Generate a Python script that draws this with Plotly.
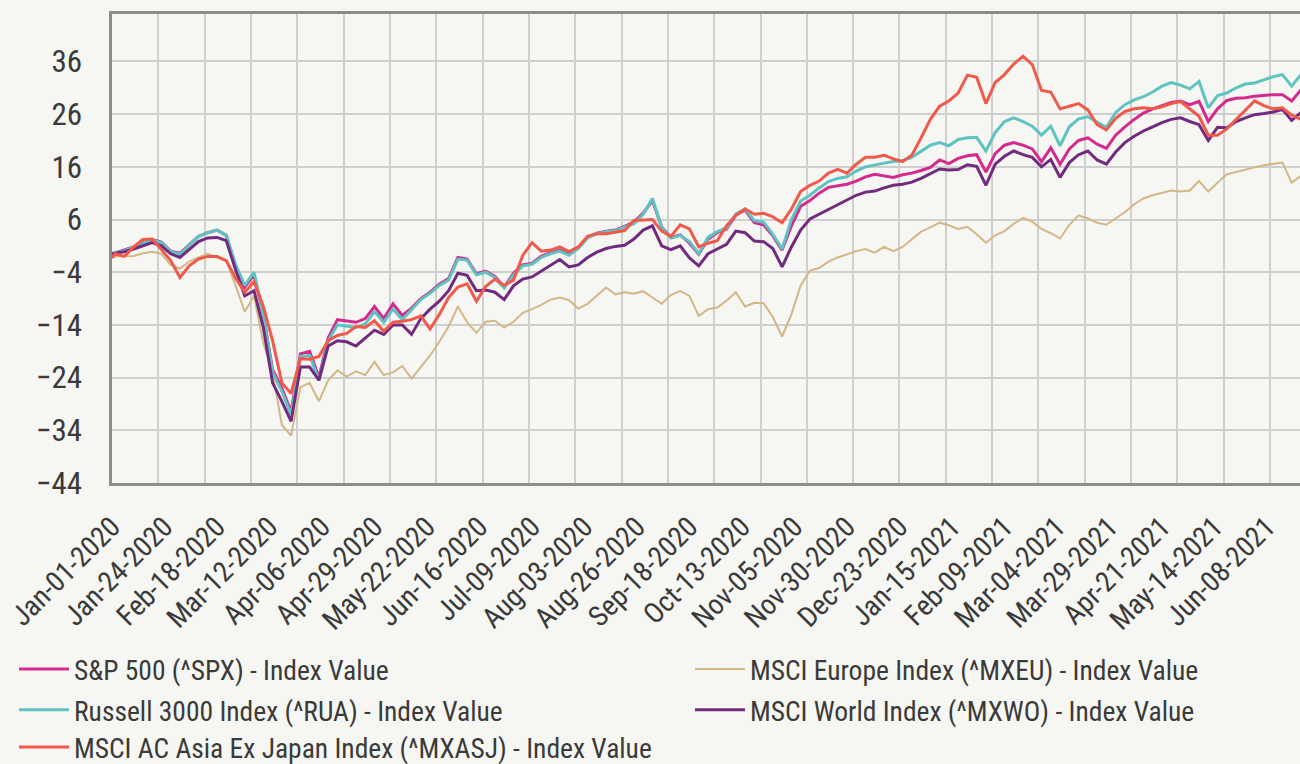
import plotly.graph_objects as go

# weekday index (0 = Jan-01-2020) of each sampled point
sample_idx = [0] + list(range(1, 386, 3))

tick_idx = list(range(0, 375, 17))
tick_labels = ["Jan-01-2020", "Jan-24-2020", "Feb-18-2020", "Mar-12-2020", "Apr-06-2020",
               "Apr-29-2020", "May-22-2020", "Jun-16-2020", "Jul-09-2020", "Aug-03-2020",
               "Aug-26-2020", "Sep-18-2020", "Oct-13-2020", "Nov-05-2020", "Nov-30-2020",
               "Dec-23-2020", "Jan-15-2021", "Feb-09-2021", "Mar-04-2021", "Mar-29-2021",
               "Apr-21-2021", "May-14-2021", "Jun-08-2021"]

spx = [-0.5, -0.3, 0.2, 0.8, 1.6, 2.2, 1.7, 0.0, -0.4, 1.2,
       2.8, 3.5, 4.0, 3.0, -2.8, -6.8, -4.5, -12.0, -22.5, -26.0,
       -30.5, -19.5, -19.0, -24.0, -16.5, -13.0, -13.2, -13.5, -12.8, -10.5,
       -12.8, -10.0, -12.2, -10.8, -9.0, -7.8, -6.3, -5.2, -1.2, -1.5,
       -4.3, -3.8, -4.8, -6.8, -4.2, -2.6, -2.3, -1.0, -0.3, 0.2,
       -0.6, 0.7, 2.6, 3.4, 3.8, 4.0, 4.7, 5.5, 7.2, 9.6,
       4.6, 2.6, 3.1, 1.5, -0.6, 2.3, 3.5, 4.2, 6.8, 7.8,
       5.4, 5.0, 2.9, 0.2, 4.8, 8.5, 9.6, 11.0, 12.1, 12.4,
       12.7, 13.3, 14.1, 14.6, 14.3, 14.0, 14.5, 14.8, 15.3, 15.9,
       17.3, 16.6, 17.6, 18.1, 18.3, 15.0, 18.5, 20.1, 20.6, 20.1,
       19.4, 17.0, 19.6, 16.5, 19.4, 21.0, 21.5, 20.3, 19.5, 22.0,
       23.6, 25.0, 26.2, 27.0, 27.6, 28.2, 28.5, 27.8, 28.4, 24.6,
       27.0, 28.6, 29.0, 29.1, 29.4, 29.6, 29.7, 29.7, 28.5, 30.6]

rua = [-0.5, -0.3, 0.1, 0.7, 1.5, 2.1, 1.6, -0.1, -0.6, 1.2,
       2.8, 3.5, 4.0, 3.0, -2.5, -6.5, -4.0, -12.0, -23.0, -26.6,
       -31.0, -20.0, -19.8, -24.5, -17.0, -14.0, -14.2, -14.5, -13.8, -11.5,
       -13.5, -11.0, -13.0, -11.0, -9.2, -8.0, -6.5, -5.5, -1.5, -1.7,
       -4.5, -4.0, -5.0, -7.0, -4.5, -2.8, -2.5, -1.2, -0.5, 0.0,
       -0.8, 0.5, 2.5, 3.3, 3.7, 3.9, 4.5, 5.2, 7.0, 10.0,
       4.5, 2.5, 3.0, 1.8, -0.5, 2.6, 3.7, 4.4, 7.0, 8.0,
       5.8, 5.5, 3.2, 0.4, 6.0, 9.5, 10.6, 12.0, 13.2, 13.8,
       14.1, 15.2, 16.0, 16.4, 16.7, 17.0, 17.2, 17.8, 19.0, 20.1,
       20.6, 20.0, 21.2, 21.5, 21.6, 19.0, 22.5, 24.6, 25.3, 24.6,
       23.7, 22.0, 23.7, 20.0, 23.6, 25.1, 25.5, 24.5, 23.5, 26.3,
       27.8, 28.7, 29.3, 30.2, 31.3, 32.0, 31.5, 30.8, 32.2, 27.2,
       29.5, 30.0, 31.0, 31.7, 31.9, 32.5, 33.1, 33.5, 31.3, 33.5]

mxasj = [-1.3, -0.5, -1.0, 0.8, 2.2, 2.3, 0.3, -1.8, -5.0, -2.8,
         -1.5, -1.0, -1.0, -1.8, -5.1, -7.8, -5.8, -10.5, -17.0, -25.0,
         -27.0, -20.4, -20.5, -20.0, -17.0, -16.0, -15.6, -14.3, -14.5, -13.2,
         -15.2, -13.5, -13.3, -13.0, -12.3, -14.8, -12.0, -8.8, -6.8, -6.2,
         -9.5, -6.7, -5.3, -6.5, -5.5, -0.8, 1.6, 0.0, 0.2, 0.8,
         -0.1, 0.8, 2.8, 3.3, 3.3, 3.6, 3.9, 5.8, 5.9, 6.0,
         3.8, 2.8, 5.0, 4.2, 0.8, 1.5, 2.0, 4.8, 6.8, 8.0,
         7.0, 7.2, 6.5, 5.4, 8.0, 11.3, 12.5, 13.3, 14.8, 15.5,
         14.8, 16.5, 17.8, 17.8, 18.2, 17.5, 17.0, 18.2, 21.5, 25.0,
         27.5, 28.5, 30.0, 33.4, 33.0, 28.0, 32.0, 33.5, 35.5, 37.0,
         35.4, 30.5, 30.2, 27.0, 27.5, 28.0, 26.8, 24.0, 23.0, 25.2,
         26.5, 27.0, 27.2, 27.0, 27.4, 28.0, 28.4, 27.0, 25.6, 22.0,
         22.0, 23.2, 25.0, 26.8, 28.5, 27.6, 27.0, 27.2, 25.8, 25.0]

mxeu = [-1.0, -1.0, -1.0, -0.9, -0.4, -0.1, -0.5, -2.6, -3.3, -2.0,
        -1.2, -0.5, -1.2, -1.8, -6.5, -11.5, -8.5, -17.5, -23.0, -33.0,
        -35.0, -25.8, -25.0, -28.5, -24.5, -22.6, -23.8, -22.8, -23.5, -21.0,
        -23.5, -23.0, -21.8, -24.2, -22.0, -19.8, -17.2, -14.3, -10.5, -13.5,
        -15.5, -13.4, -13.2, -14.5, -13.4, -11.7, -11.0, -10.2, -9.2, -8.8,
        -9.3, -10.9, -10.0, -8.5, -6.9, -8.2, -7.8, -8.1, -7.6, -8.8,
        -10.0, -8.3, -7.6, -8.5, -12.3, -11.0, -10.7, -9.4, -7.8, -10.5,
        -9.8, -9.9, -12.5, -16.2, -12.0, -6.5, -3.7, -3.2, -2.0, -1.2,
        -0.6, 0.0, 0.4, -0.3, 0.8, 0.0, 0.8, 2.3, 3.7, 4.5,
        5.4, 4.9, 4.2, 4.6, 3.2, 1.6, 3.0, 3.8, 5.2, 6.3,
        5.6, 4.2, 3.4, 2.4, 5.0, 6.8, 6.2, 5.4, 5.0, 6.2,
        7.4, 8.9, 10.0, 10.6, 11.0, 11.5, 11.3, 11.5, 13.3, 11.3,
        13.0, 14.6, 15.0, 15.5, 15.9, 16.3, 16.6, 16.8, 13.0, 14.3]

mxwo = [-0.5, -0.4, -0.1, 0.4, 1.0, 1.6, 1.0, -0.5, -1.2, 0.3,
        1.8, 2.5, 2.6, 2.0, -3.5, -8.5, -7.5, -14.5, -25.0, -28.5,
        -32.3, -22.0, -22.0, -24.5, -18.0, -17.0, -17.2, -18.0, -16.5, -15.0,
        -15.8, -14.0, -14.0, -15.8, -12.8, -11.0, -9.5, -7.5, -4.2, -4.6,
        -7.5, -7.4, -7.8, -9.2, -6.6, -5.3, -4.9, -3.8, -2.6, -1.6,
        -3.0, -2.6, -1.2, -0.2, 0.5, 0.9, 1.1, 2.3, 4.0, 4.8,
        1.0, 0.3, 1.0, -1.3, -2.8, -0.5, 0.4, 1.3, 3.8, 3.5,
        1.9, 1.8, 0.5, -3.0, 0.8, 4.0, 6.1, 7.0, 8.0, 8.8,
        9.8, 10.6, 11.2, 11.4, 12.0, 12.5, 12.7, 13.1, 13.8, 14.7,
        15.6, 15.4, 15.5, 16.4, 16.1, 12.5, 16.5, 18.0, 19.0, 18.3,
        17.8, 16.0, 17.4, 14.0, 16.8, 18.3, 19.0, 17.3, 16.5, 18.8,
        20.6, 21.8, 22.8, 23.6, 24.4, 25.0, 25.3, 24.6, 24.0, 21.0,
        23.5, 23.4, 24.6, 25.3, 25.9, 26.1, 26.4, 26.9, 24.8, 26.3]

y_ticks = [-44, -34, -24, -14, -4, 6, 16, 26, 36]

BG = "#f6f6f2"
FONT = "Liberation Sans Narrow, Roboto Condensed, Roboto, sans-serif"
TXT = "#3a3a3a"

COL1_X, COL2_X = -0.0825, 0.4865
ROW_Y = [-0.3966, -0.4840, -0.5630]

series = [
    # name, values, color, width, legend id, legend x (paper), legend y (paper)
    ("MSCI Europe Index (^MXEU) - Index Value", mxeu, "#d3b787", 2.0, "legend4", COL2_X, ROW_Y[0]),
    ("S&P 500 (^SPX) - Index Value", spx, "#d42a8e", 3.0, "legend", COL1_X, ROW_Y[0]),
    ("Russell 3000 Index (^RUA) - Index Value", rua, "#5ec3c1", 3.0, "legend2", COL1_X, ROW_Y[1]),
    ("MSCI World Index (^MXWO) - Index Value", mxwo, "#722a7f", 3.0, "legend5", COL2_X, ROW_Y[1]),
    ("MSCI AC Asia Ex Japan Index (^MXASJ) - Index Value", mxasj, "#f05a4b", 3.0, "legend3", COL1_X, ROW_Y[2]),
]

fig = go.Figure()
legends = {}
for name, vals, color, width, leg, lx, ly in series:
    fig.add_trace(go.Scatter(
        x=sample_idx, y=vals, mode="lines", name=name, legend=leg,
        line=dict(color=color, width=width),
    ))
    legends[leg] = dict(
        x=lx, y=ly, xref="paper", yref="paper",
        xanchor="left", yanchor="middle", bgcolor="rgba(0,0,0,0)",
        itemwidth=50,
        font=dict(family=FONT, size=27.5, color=TXT),
    )

# helper axis drawing the vertical grid every 15 trading days
fig.add_trace(go.Scatter(x=[None], y=[None], xaxis="x2", showlegend=False, hoverinfo="skip"))

x_range = [0, 384.7]

fig.update_layout(
    width=1300, height=764,
    margin=dict(l=112, r=0, t=14, b=281, autoexpand=False),
    paper_bgcolor=BG, plot_bgcolor=BG,
    font=dict(family=FONT, color=TXT),
    xaxis=dict(
        range=x_range, tickmode="array", tickvals=tick_idx, ticktext=tick_labels,
        tickangle=-45, showgrid=False, zeroline=False,
        showline=True, mirror=True, linecolor="#8c8c8c", linewidth=2.5,
        ticks="", ticklabelstandoff=13,
        tickfont=dict(family=FONT, size=28.5, color=TXT),
    ),
    xaxis2=dict(
        range=x_range, overlaying="x", anchor="y", tick0=0, dtick=15,
        showgrid=True, gridcolor="#cfcfcf", gridwidth=1.5,
        showticklabels=False, ticks="", zeroline=False, showline=False,
    ),
    yaxis=dict(
        range=[-44, 45], tickmode="array", tickvals=y_ticks,
        showgrid=True, gridcolor="#cfcfcf", gridwidth=1.5, zeroline=False,
        showline=True, mirror=False, linecolor="#8c8c8c", linewidth=2.5,
        ticks="", ticklabelstandoff=21,
        tickfont=dict(family=FONT, size=31, color=TXT),
    ),
    **legends,
)

fig.write_html("out.html", config={"displayModeBar": False},
               post_script="document.body.style.margin='0';")
